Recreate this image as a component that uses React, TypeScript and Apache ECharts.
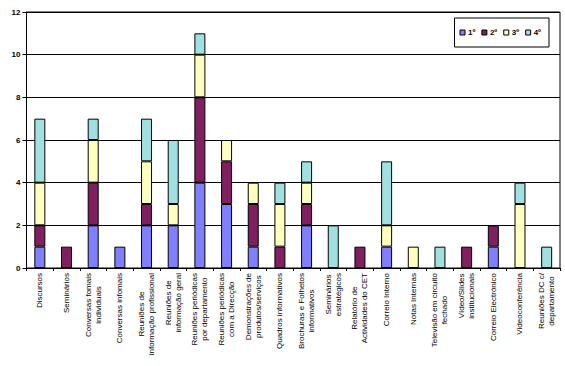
import React, { useEffect, useRef } from "react";
import * as echarts from "echarts";

const categories = [
  "Discursos",
  "Seminários",
  "Conversas fomais\nindividuais",
  "Conversas infomais",
  "Reuniões de\ninformação profissional",
  "Reuniões de\ninformação geral",
  "Reuniões periódicas\npor departamento",
  "Reuniões periódicas\ncom a Direcção",
  "Demonstrações de\nprodutos/serviços",
  "Quadros informativos",
  "Brochuras e Folhetos\ninformativos",
  "Seminários\nestratégicos",
  "Relatório de\nActividades do CET",
  "Correio Interno",
  "Notas Internas",
  "Televisão em circuito\nfechado",
  "Vídeo/Slides\ninstitucionais",
  "Correio Electrónico",
  "Videoconferência",
  "Reuniões DC c/\ndepartamento",
];

const seriesNames = ["1º", "2º", "3º", "4º"];
const first = [1, 0, 2, 1, 2, 2, 4, 3, 1, 0, 2, 0, 0, 1, 0, 0, 0, 1, 0, 0];
const second = [1, 1, 2, 0, 1, 0, 4, 2, 2, 1, 1, 0, 1, 0, 0, 0, 1, 1, 0, 0];
const third = [2, 0, 2, 0, 2, 1, 2, 1, 1, 2, 1, 0, 0, 1, 1, 0, 0, 0, 3, 0];
const fourth = [3, 0, 1, 0, 2, 3, 1, 0, 0, 1, 1, 2, 0, 3, 0, 1, 0, 0, 1, 1];
const colors = ["#8080FF", "#802060", "#FFFFC0", "#A0E0E0"];
const yTicks = { min: 0, max: 12, interval: 2 };

const FONT = "'Liberation Sans', Arial, sans-serif";

export default function App() {
  const ref = useRef<HTMLDivElement>(null);
  useEffect(() => {
    if (!ref.current) return;
    const chart = echarts.init(ref.current, null, { renderer: "svg" });
    const values = [first, second, third, fourth];
    chart.setOption({
      animation: false,
      backgroundColor: "#ffffff",
      legend: {
        right: 16,
        top: 18,
        orient: "horizontal",
        padding: [10, 8, 10, 5],
        borderColor: "#000",
        borderWidth: 1,
        itemWidth: 5,
        itemHeight: 5,
        itemGap: 6,
        icon: "rect",
        textStyle: {
          fontFamily: FONT,
          fontSize: 8,
          fontWeight: "bold",
          color: "#000",
          lineHeight: 9,
          padding: [0, 0, 0, -2],
        },
        data: seriesNames.map((n) => ({ name: n, itemStyle: { borderColor: "#000", borderWidth: 1 } })),
      },
      grid: {
        left: 26.5,
        right: 5,
        top: 12,
        bottom: 98,
        show: true,
        borderColor: "#000",
        borderWidth: 1,
        backgroundColor: "transparent",
      },
      xAxis: {
        type: "category",
        data: categories,
        boundaryGap: true,
        axisLine: { lineStyle: { color: "#000", width: 1 } },
        axisTick: { show: true, alignWithLabel: false, length: 3, lineStyle: { color: "#000" }, interval: 0 },
        axisLabel: {
          interval: 0,
          rotate: 90,
          margin: 5,
          fontFamily: FONT,
          fontSize: 8,
          color: "#000",
          formatter: (v: string) =>
            v
              .split("\n")
              .map((l) => "{c|" + l + "}")
              .join("\n"),
          rich: { c: { align: "center", fontFamily: FONT, fontSize: 8, lineHeight: 10, color: "#000" } },
        },
      },
      yAxis: {
        type: "value",
        min: yTicks.min,
        max: yTicks.max,
        interval: yTicks.interval,
        axisLine: { show: true, lineStyle: { color: "#000", width: 1 } },
        axisTick: { show: true, length: 4, lineStyle: { color: "#000" } },
        splitLine: { show: true, lineStyle: { color: "#000", width: 1 } },
        axisLabel: { fontFamily: FONT, fontSize: 8, fontWeight: "bold", color: "#000", margin: 6 },
      },
      series: seriesNames.map((name, i) => ({
        name,
        type: "bar",
        stack: "total",
        barWidth: 11,
        data: values[i].map((v) => (v === 0 ? null : v)),
        itemStyle: { color: colors[i], borderColor: "#000", borderWidth: 1 },
      })),
    });
    return () => chart.dispose();
  }, []);
  return (
    <div
      ref={ref}
      style={{ position: "fixed", left: 0, top: 0, width: 565, height: 366, background: "#fff" }}
    />
  );
}
